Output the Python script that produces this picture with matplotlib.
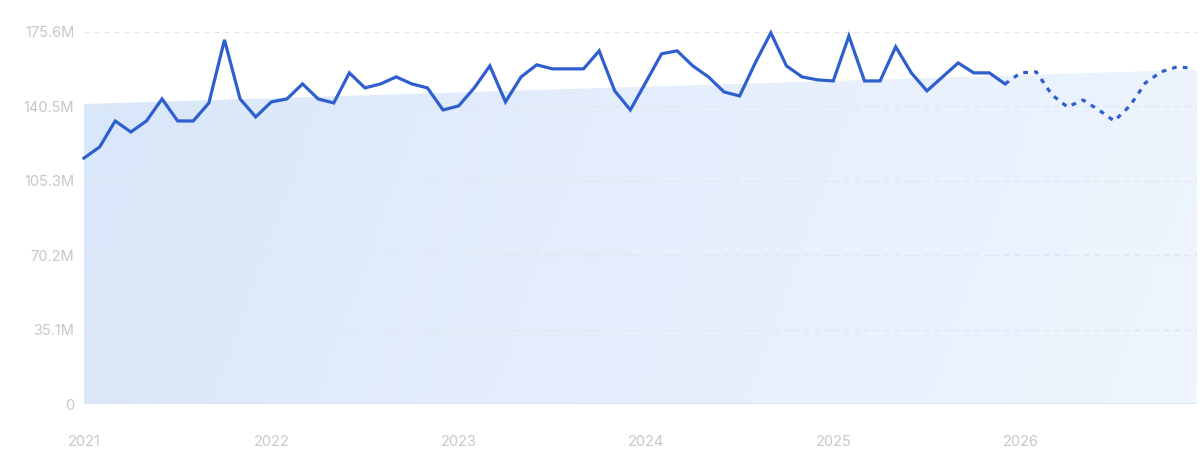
import numpy as np
import matplotlib
matplotlib.use("Agg")
from matplotlib import pyplot as plt
from matplotlib.colors import LinearSegmentedColormap

# monthly values in millions, 2021-01 .. 2025-12
actual = [116.1, 121.3, 133.6, 128.4, 133.6, 144.0, 133.6, 133.6, 142.1, 171.9, 144.0, 135.5,
          142.6, 144.0, 151.1, 144.0, 142.1, 156.3, 149.2, 151.1, 154.4, 151.1, 149.2, 138.8,
          140.7, 149.2, 159.6, 142.6, 154.4, 160.1, 158.2, 158.2, 158.2, 166.7, 147.8, 138.8,
          152.0, 165.3, 166.7, 159.6, 154.4, 147.3, 145.4, 161.0, 175.2, 159.6, 154.4, 153.0,
          152.5, 173.7, 152.5, 152.5, 168.6, 156.3, 147.8, 154.4, 161.0, 156.3, 156.3, 151.1]
# forecast 2025-12 .. 2026-12
forecast = [151.1, 156.3, 156.8, 146.0, 140.2, 143.5, 138.8, 133.6, 140.7, 151.6, 156.8, 159.1, 158.6]
# trend line (start, end) in millions
trend = [141.6, 157.8]

years = ["2021", "2022", "2023", "2024", "2025", "2026"]
yticks = [0, 35.1, 70.2, 105.3, 140.5, 175.6]
ylabels = ["0", "35.1M", "70.2M", "105.3M", "140.5M", "175.6M"]

line_col = "#2f5fcf"
text_col = "#c4c7cd"

plt.rcParams["font.family"] = ["Inter", "DejaVu Sans"]

fig = plt.figure(figsize=(12, 4.67), dpi=100)
ax = fig.add_axes([0.07, 0.1349, 0.9275, 0.7966])

n_total = len(actual) + len(forecast) - 1
xa = np.arange(len(actual))
xf = np.arange(len(actual) - 1, n_total)
xmax = n_total - 1 + 0.3

# trend area with a soft left-to-right gradient
tx = np.array([0, xmax])
ty = np.array(trend)
poly = ax.fill_between(tx, 0, ty, color="none", lw=0)
cmap = LinearSegmentedColormap.from_list("g", ["#d9e7fa", "#e5eefc", "#eef5fe"])
grad = np.tile(np.linspace(0, 1, 256), (64, 1))
grad = grad + np.linspace(0, 0.12, 64)[:, None]
im = ax.imshow(grad, extent=[0, xmax, 0, 175.6], aspect="auto", cmap=cmap,
               vmin=0, vmax=1.12, origin="upper", zorder=0)
im.set_clip_path(poly.get_paths()[0], transform=ax.transData)

# grid
for v in yticks[1:]:
    ax.axhline(v, color="#e2e4e8", lw=0.9, ls=(0, (4, 4)), zorder=1)
ax.axhline(0, color="#d6e2f4", lw=1.2, zorder=1)

ax.plot(xa, actual, color=line_col, lw=2.3, solid_joinstyle="miter", zorder=3, clip_on=False)
ax.plot(xf, forecast, color=line_col, lw=2.3, ls=(0, (1.5, 1.9)), dash_capstyle="butt",
        zorder=3, clip_on=False)

ax.set_xlim(0, xmax)
ax.set_ylim(0, 175.6)
ax.set_yticks(yticks)
ax.set_yticklabels(ylabels)
ax.set_xticks(np.arange(len(years)) * 12)
ax.set_xticklabels(years)
ax.tick_params(axis="y", length=0, pad=7, labelsize=10.5, labelcolor=text_col)
ax.tick_params(axis="x", length=0, pad=22, labelsize=10.5, labelcolor=text_col)
for s in ax.spines.values():
    s.set_visible(False)

fig.savefig("out.png", dpi=100)
